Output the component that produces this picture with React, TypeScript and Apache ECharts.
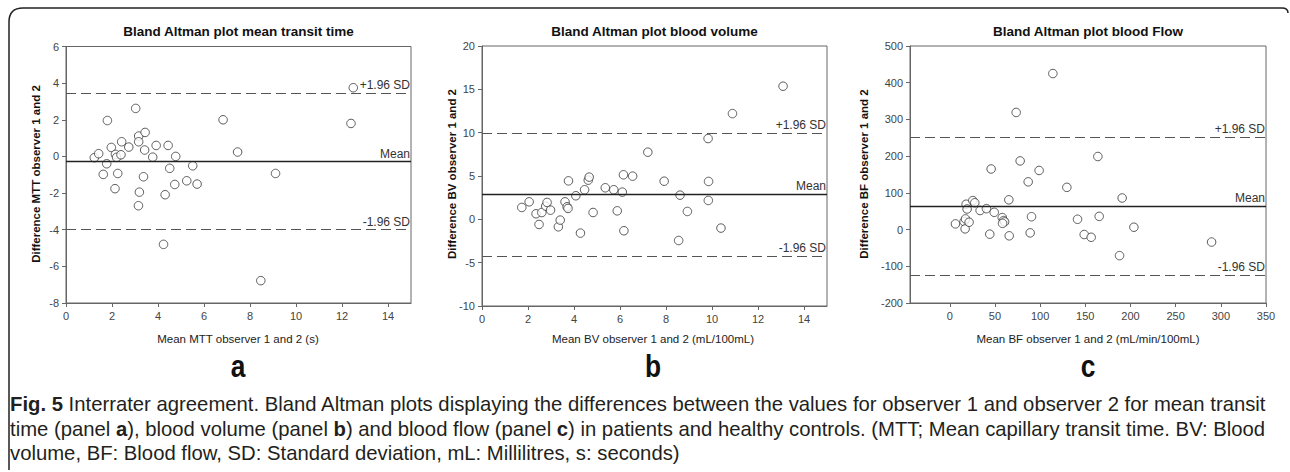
import React, { useEffect, useRef } from "react";
import * as echarts from "echarts";

// Panel a: mean transit time
const mttMean = [1.23, 1.42, 1.8, 1.77, 1.62, 1.97, 2.15, 2.2, 2.25, 2.13, 2.42, 2.39, 2.73, 3.03, 3.16, 3.16, 3.19, 3.15, 3.44, 3.42, 3.37, 3.77, 3.92, 4.24, 4.31, 4.44, 4.51, 4.77, 4.73, 5.25, 5.51, 5.7, 6.83, 7.46, 8.47, 9.11, 12.39, 12.49];
const mttDiff = [-0.07, 0.15, 1.96, -0.4, -0.98, 0.49, 0.11, -0.05, -0.93, -1.76, 0.8, 0.09, 0.51, 2.62, 1.11, 0.8, -1.95, -2.69, 1.31, 0.35, -1.11, -0.04, 0.6, -4.8, -2.09, 0.6, -0.65, 0.0, -1.53, -1.33, -0.51, -1.51, 2.0, 0.24, -6.78, -0.93, 1.8, 3.75];
const mttLimits = [3.44, -0.29, -4.0]; // +1.96 SD, mean, -1.96 SD
const mttXTicks = [0, 2, 4, 6, 8, 10, 12, 14];

// Panel b: blood volume
const bvMean = [1.73, 2.05, 2.35, 2.48, 2.6, 2.77, 2.83, 2.98, 3.32, 3.4, 3.61, 3.7, 3.74, 3.76, 4.08, 4.28, 4.46, 4.62, 4.66, 4.83, 5.36, 5.73, 5.88, 6.1, 6.15, 6.17, 6.55, 7.21, 7.92, 8.61, 8.55, 8.93, 9.83, 9.85, 9.84, 10.39, 10.89, 13.09];
const bvDiff = [1.37, 2.02, 0.64, -0.59, 0.79, 1.52, 1.95, 1.06, -0.86, -0.09, 2.02, 1.45, 1.26, 4.44, 2.72, -1.59, 3.41, 4.52, 4.87, 0.79, 3.64, 3.41, 0.98, 3.14, 5.14, -1.32, 4.98, 7.75, 4.4, 2.79, -2.44, 0.91, 9.32, 4.37, 2.18, -1.01, 12.2, 15.36];
const bvLimits = [9.95, 2.87, -4.28];
const bvXTicks = [0, 2, 4, 6, 8, 10, 12, 14];

// Panel c: blood flow
const bfMean = [6.3, 15.9, 17.0, 17.4, 18.1, 19.2, 21.4, 25.5, 27.7, 33.6, 40.6, 45.8, 44.3, 49.2, 58.1, 59.6, 60.7, 58.4, 65.4, 65.8, 73.5, 77.9, 86.8, 89.0, 90.5, 98.9, 114.1, 129.6, 141.4, 148.8, 156.5, 163.9, 165.4, 187.9, 190.8, 203.8, 289.8];
const bfDiff = [15.5, 21.8, 1.9, 29, 69, 56, 20, 79, 73, 52, 57, 165, -12.5, 47, 32.6, 24.5, 21, 17, 81, -17, 319, 187, 130, -9, 35, 161, 425, 115, 28, -13.5, -21, 199, 36, -71, 86, 6.4, -34];
const bfLimits = [251, 63.5, -124];
const bfXTicks = [0, 50, 100, 150, 200, 250, 300, 350];

const limitLabels = ["+1.96 SD", "Mean", "-1.96 SD"];

const titles = [
  "Bland Altman plot mean transit time",
  "Bland Altman plot blood volume",
  "Bland Altman plot blood Flow",
];
const yTitles = [
  "Difference MTT observer 1 and 2",
  "Difference BV observer 1 and 2",
  "Difference BF observer 1 and 2",
];
const xTitles = [
  "Mean MTT observer 1 and 2 (s)",
  "Mean BV observer 1 and 2 (mL/100mL)",
  "Mean BF observer 1 and 2 (mL/min/100mL)",
];
const panelLetters = ["a", "b", "c"];

const captionLines = [
  "{b|Fig. 5} Interrater agreement. Bland Altman plots displaying the differences between the values for observer 1 and observer 2 for mean transit",
  "time (panel {b|a}), blood volume (panel {b|b}) and blood flow (panel {b|c}) in patients and healthy controls. (MTT; Mean capillary transit time. BV: Blood",
  "volume, BF: Blood flow, SD: Standard deviation, mL: Millilitres, s: seconds)",
];

const ARIAL = '"Liberation Sans", Arial, sans-serif';

const grids = [
  { left: 66, top: 46.5, width: 345, height: 256.5 },
  { left: 482, top: 46, width: 345, height: 260 },
  { left: 910, top: 46, width: 356, height: 257 },
];
const centersX = [238, 653, 1088];
const yTitleX = [36, 452, 864];

const FRAME_D = "M 9 470 L 9 22 Q 9 8 23 8 L 1282 8 Q 1288 8 1288 13";

export default function App() {
  const ref = useRef<HTMLDivElement>(null);
  useEffect(() => {
    document.body.style.margin = "0";
    echarts.graphic.registerShape("frame", echarts.graphic.extendPath(FRAME_D, {}));
    const chart = echarts.init(ref.current!, null, { renderer: "svg" });

    const xs = [mttMean, bvMean, bfMean];
    const ys = [mttDiff, bvDiff, bfDiff];
    const lims = [mttLimits, bvLimits, bfLimits];
    const xTicks = [mttXTicks, bvXTicks, bfXTicks];
    const xRanges = [
      [0, 15],
      [0, 15],
      [-44, 350],
    ];
    const yRanges = [
      [-8, 6, 2],
      [-10, 20, 5],
      [-200, 500, 100],
    ];

    const axisColor = "#666";
    const labelStyle = { color: "#444", fontSize: 11, fontFamily: ARIAL };

    const xAxis = [0, 1, 2].map((i) => ({
      type: "value",
      gridIndex: i,
      min: xRanges[i][0],
      max: xRanges[i][1],
      axisLine: { show: true, onZero: false, lineStyle: { color: axisColor } },
      axisTick: { show: true, length: 4, lineStyle: { color: axisColor }, customValues: xTicks[i] },
      axisLabel: { ...labelStyle, margin: 7, customValues: xTicks[i] },
      splitLine: { show: false },
    }));
    const yAxis = [0, 1, 2].map((i) => ({
      type: "value",
      gridIndex: i,
      min: yRanges[i][0],
      max: yRanges[i][1],
      interval: yRanges[i][2],
      axisLine: { show: true, onZero: false, lineStyle: { color: axisColor } },
      axisTick: { show: true, length: 4, lineStyle: { color: axisColor } },
      axisLabel: { ...labelStyle, margin: 7 },
      splitLine: { show: false },
    }));

    const series = [0, 1, 2].map((i) => ({
      type: "scatter",
      xAxisIndex: i,
      yAxisIndex: i,
      symbol: "circle",
      symbolSize: 8.5,
      itemStyle: { color: "#fff", borderColor: "#333", borderWidth: 1 },
      data: xs[i].map((x, k) => [x, ys[i][k]]),
      markLine: {
        silent: true,
        symbol: ["none", "none"],
        animation: false,
        data: lims[i].map((v, k) => ({
          yAxis: v,
          lineStyle: {
            color: k === 1 ? "#222" : "#555",
            width: k === 1 ? 1.3 : 1.2,
            type: k === 1 ? "solid" : [10, 5],
          },
          label: {
            show: true,
            position: "insideEndTop",
            formatter: limitLabels[k],
            color: "#333",
            fontSize: 12,
            fontFamily: ARIAL,
            distance: [1, 2],
          },
        })),
      },
    }));

    const graphic: any[] = [
      {
        type: "frame",
        x: 0,
        y: 0,
        style: { fill: "none", stroke: "#222", lineWidth: 1.5 },
      },
    ];
    for (let i = 0; i < 3; i++) {
      const g = grids[i];
      graphic.push({
        type: "text",
        x: g.left + g.width / 2,
        y: 31,
        style: {
          text: titles[i],
          fill: "#111",
          fontSize: 13.5,
          fontWeight: "bold",
          fontFamily: ARIAL,
          align: "center",
          verticalAlign: "middle",
        },
      });
      graphic.push({
        type: "text",
        x: yTitleX[i],
        y: 174,
        rotation: Math.PI / 2,
        style: {
          text: yTitles[i],
          fill: "#111",
          fontSize: 11.5,
          fontWeight: "bold",
          fontFamily: ARIAL,
          align: "center",
          verticalAlign: "middle",
        },
      });
      graphic.push({
        type: "text",
        x: centersX[i],
        y: 339,
        style: {
          text: xTitles[i],
          fill: "#222",
          fontSize: 11.5,
          fontFamily: ARIAL,
          align: "center",
          verticalAlign: "middle",
        },
      });
      graphic.push({
        type: "text",
        x: centersX[i],
        y: 366,
        scaleX: 0.85,
        style: {
          text: panelLetters[i],
          fill: "#111",
          fontSize: 31,
          fontWeight: "bold",
          fontFamily: ARIAL,
          align: "center",
          verticalAlign: "middle",
        },
      });
    }
    captionLines.forEach((line, k) => {
      graphic.push({
        type: "text",
        x: 10,
        y: 404 + k * 24.5,
        style: {
          text: line,
          fill: "#231f20",
          fontSize: 20.3,
          fontFamily: ARIAL,
          align: "left",
          verticalAlign: "middle",
          rich: {
            b: { fontWeight: "bold", fontSize: 20.3, fontFamily: ARIAL, fill: "#231f20" },
          },
        },
      });
    });

    chart.setOption({
      animation: false,
      backgroundColor: "#fff",
      grid: grids.map((g) => ({ ...g, show: true, borderColor: axisColor, borderWidth: 1, backgroundColor: "transparent" })),
      xAxis,
      yAxis,
      series,
      graphic,
    } as any);
    return () => chart.dispose();
  }, []);
  return <div ref={ref} style={{ width: 1290, height: 472 }} />;
}
